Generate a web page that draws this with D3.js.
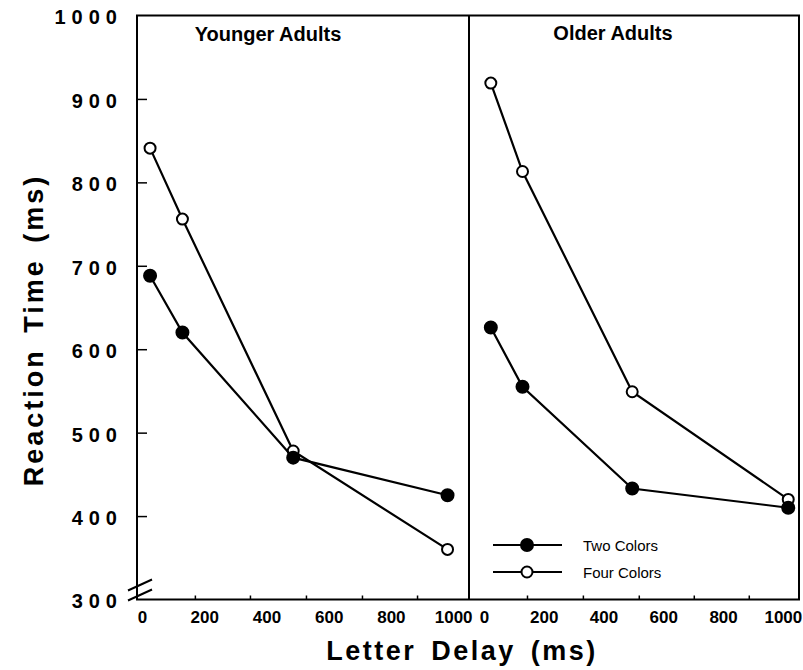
<!DOCTYPE html>
<html><head><meta charset="utf-8">
<script src="https://cdn.jsdelivr.net/npm/d3@7"></script>
<style>
body{margin:0;background:#fff}
text{font-family:"Liberation Sans",Arial,Helvetica,sans-serif;fill:#000}
</style></head>
<body><svg id="chart" width="803" height="670"></svg>
<script>
// ---- data ----
const panelTitles = ["Younger Adults", "Older Adults"];
const seriesNames = ["Two Colors", "Four Colors"];
const youngerDelay = [26, 130, 486, 982];
const youngerTwo = [688, 620, 470, 425];
const youngerFour = [841, 756, 478, 360];
const olderDelay = [23, 129, 496, 1018];
const olderTwo = [626, 555, 433, 410];
const olderFour = [919, 813, 549, 420];
const yTickValues = [300, 400, 500, 600, 700, 800, 900, 1000];
const yTickMarks = [400, 500, 600, 700, 800, 900];
const xTickLabels = [0, 200, 400, 600, 800, 1000];
const youngerTickMarks = [170, 347, 527, 707, 884];
const olderTickMarks = [144, 331, 518, 702, 886];

// ---- layout ----
const svg = d3.select("#chart");
const plotTop = 15.5, plotBottom = 599.5, leftX = 137, divX = 469, rightX = 799;

const y = d3.scaleLinear().domain([300, 1000]).range([plotBottom, plotTop]);
const xL = d3.scaleLinear().domain([-16, 1051]).range([leftX, divX]);
const xR = d3.scaleLinear().domain([-50, 1054]).range([divX, rightX]);

// frame
const g = svg.append("g");
g.append("rect").attr("x", leftX).attr("y", plotTop).attr("width", rightX - leftX).attr("height", plotBottom - plotTop)
  .attr("fill", "none").attr("stroke", "#000").attr("stroke-width", 2);
g.append("line").attr("x1", divX).attr("x2", divX).attr("y1", plotTop).attr("y2", plotBottom)
  .attr("stroke", "#000").attr("stroke-width", 2);

// y axis
const yAx = g.append("g").attr("transform", `translate(${leftX},0)`)
  .call(d3.axisLeft(y).tickValues(yTickValues).tickSize(0).tickPadding(10).tickFormat(d3.format("d")));
yAx.select(".domain").remove();
yAx.selectAll("text").attr("font-size", 20).attr("font-weight", "bold")
  .attr("letter-spacing", "6px").attr("dy", "0.42em").attr("dx", "-4");
const yTk = g.append("g").attr("transform", `translate(${leftX},0)`)
  .call(d3.axisLeft(y).tickValues(yTickMarks).tickSize(-10).tickFormat(""));
yTk.select(".domain").remove();
yTk.selectAll("line").attr("stroke-width", 1.5);

// axis break marks
[0, 10].forEach(o => {
  g.append("line").attr("x1", leftX - 9).attr("x2", leftX + 15)
    .attr("y1", y(300) - 9 + o).attr("y2", y(300) - 20 + o)
    .attr("stroke", "#000").attr("stroke-width", 2);
});

// x axes per panel
function xAxis(x, marks) {
  const a = g.append("g").attr("transform", `translate(0,${plotBottom})`)
    .call(d3.axisBottom(x).tickValues(xTickLabels).tickSize(0).tickPadding(11).tickFormat(d3.format("d")));
  a.select(".domain").remove();
  a.selectAll("text").attr("font-size", 17).attr("font-weight", "bold");
  const m = g.append("g").attr("transform", `translate(0,${plotBottom})`)
    .call(d3.axisBottom(x).tickValues(marks).tickSize(-4).tickFormat(""));
  m.select(".domain").remove();
  m.selectAll("line").attr("stroke-width", 1.5);
}
xAxis(xL, youngerTickMarks);
xAxis(xR, olderTickMarks);

// panel titles
g.append("text").attr("x", 268).attr("y", 41).attr("text-anchor", "middle")
  .attr("font-size", 20).attr("font-weight", "bold").text(panelTitles[0]);
g.append("text").attr("x", 613).attr("y", 39.5).attr("text-anchor", "middle")
  .attr("font-size", 20).attr("font-weight", "bold").text(panelTitles[1]);

// axis titles
g.append("text").attr("x", 462).attr("y", 660).attr("text-anchor", "middle")
  .attr("font-size", 27).attr("font-weight", "bold").attr("letter-spacing", "2.5px").attr("word-spacing", "5px")
  .text("Letter Delay (ms)");
g.append("text").attr("transform", "translate(43,330) rotate(-90)").attr("text-anchor", "middle")
  .attr("font-size", 27).attr("font-weight", "bold").attr("letter-spacing", "3px").attr("word-spacing", "5px")
  .text("Reaction Time (ms)");

// series
const line = (x) => d3.line().x(d => x(d[0])).y(d => y(d[1]));
function drawSeries(x, delays, vals, filled) {
  const pts = delays.map((d, i) => [d, vals[i]]);
  g.append("path").datum(pts).attr("d", line(x)).attr("fill", "none")
    .attr("stroke", "#000").attr("stroke-width", 2.2);
  g.selectAll(null).data(pts).enter().append("circle")
    .attr("cx", d => x(d[0])).attr("cy", d => y(d[1]))
    .attr("r", filled ? 6 : 5.5)
    .attr("fill", filled ? "#000" : "#fff").attr("stroke", "#000").attr("stroke-width", 2);
}
drawSeries(xL, youngerDelay, youngerFour, false);
drawSeries(xL, youngerDelay, youngerTwo, true);
drawSeries(xR, olderDelay, olderFour, false);
drawSeries(xR, olderDelay, olderTwo, true);

// legend
const leg = g.append("g");
seriesNames.forEach((name, i) => {
  const ly = 545 + i * 27;
  leg.append("line").attr("x1", 493).attr("x2", 562).attr("y1", ly).attr("y2", ly)
    .attr("stroke", "#000").attr("stroke-width", 2);
  leg.append("circle").attr("cx", 527).attr("cy", ly).attr("r", i === 0 ? 6 : 5.5)
    .attr("fill", i === 0 ? "#000" : "#fff").attr("stroke", "#000").attr("stroke-width", 2);
  leg.append("text").attr("x", 583).attr("y", ly + 6).attr("font-size", 15).text(name);
});
</script></body></html>
